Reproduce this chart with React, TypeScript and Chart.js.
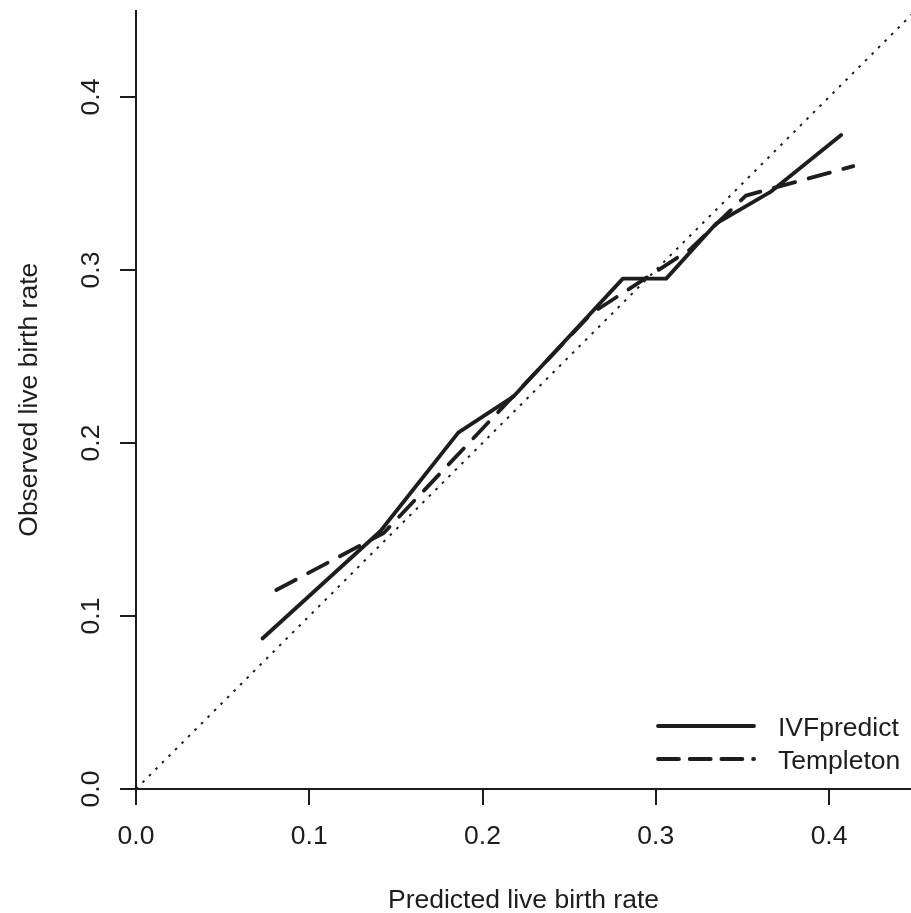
import React, { useEffect, useRef } from 'react';
import { Chart, registerables } from 'chart.js';

Chart.register(...registerables);

// ---- data ----
const ivfX = [0.073, 0.141, 0.186, 0.218, 0.281, 0.306, 0.335, 0.366, 0.407];
const ivfY = [0.087, 0.149, 0.206, 0.227, 0.295, 0.295, 0.327, 0.345, 0.378];
const tplX = [0.081, 0.143, 0.263, 0.320, 0.352, 0.414];
const tplY = [0.115, 0.148, 0.275, 0.312, 0.343, 0.360];
const refX = [0, 0.45];
const refY = [0, 0.45];
const xTicks = [0, 0.1, 0.2, 0.3, 0.4];
const yTicks = [0, 0.1, 0.2, 0.3, 0.4];
const seriesNames = ['IVFpredict', 'Templeton'];
const xTitle = 'Predicted live birth rate';
const yTitle = 'Observed live birth rate';

const FONT = '"Liberation Sans", Arial, Helvetica, sans-serif';
const FS = 26.5;
const INK = '#1d1d1d';

const pts = (xs: number[], ys: number[]) => xs.map((x, i) => ({ x, y: ys[i] }));

export default function App() {
  const ref = useRef<HTMLCanvasElement | null>(null);

  useEffect(() => {
    const canvas = ref.current;
    if (!canvas) return;

    const textPlugin = {
      id: 'rStyleText',
      afterDraw(chart: any) {
        const { ctx, scales } = chart;
        const x = scales.x;
        const y = scales.y;
        ctx.save();
        ctx.fillStyle = INK;
        ctx.font = `${FS}px ${FONT}`;
        // y tick labels, rotated (R style)
        yTicks.forEach((v) => {
          const py = y.getPixelForValue(v);
          ctx.save();
          ctx.translate(99, py);
          ctx.rotate(-Math.PI / 2);
          ctx.textAlign = 'center';
          ctx.textBaseline = 'alphabetic';
          ctx.fillText(v.toFixed(1), 0, 0);
          ctx.restore();
        });
        // y title
        ctx.save();
        ctx.translate(37, (y.top + y.bottom) / 2);
        ctx.rotate(-Math.PI / 2);
        ctx.textAlign = 'center';
        ctx.textBaseline = 'alphabetic';
        ctx.fillText(yTitle, 0, 0);
        ctx.restore();
        // x title
        ctx.textAlign = 'center';
        ctx.textBaseline = 'alphabetic';
        ctx.fillText(xTitle, (x.left + x.right) / 2, 908);
        // legend
        const ds = chart.data.datasets;
        const rows = [726, 759];
        const legendDash = [[], [21, 10.7]];
        seriesNames.forEach((name, i) => {
          const d = ds[i];
          const ly = rows[i];
          ctx.save();
          ctx.strokeStyle = d.borderColor;
          ctx.lineWidth = d.borderWidth;
          ctx.lineCap = d.borderCapStyle || 'butt';
          ctx.setLineDash(legendDash[i]);
          ctx.beginPath();
          ctx.moveTo(658, ly);
          ctx.lineTo(754, ly);
          ctx.stroke();
          ctx.restore();
          ctx.textAlign = 'left';
          ctx.textBaseline = 'alphabetic';
          ctx.fillText(name, 778, ly + 10);
        });
        ctx.restore();
      },
    };

    const axisCommon = {
      type: 'linear' as const,
      grid: {
        drawOnChartArea: false,
        drawTicks: true,
        tickLength: 16,
        color: INK,
        tickColor: INK,
        lineWidth: 2,
      },
      border: { display: true, color: INK, width: 2 },
    };

    const chart = new Chart(canvas, {
      type: 'scatter',
      data: {
        datasets: [
          {
            label: seriesNames[0],
            data: pts(ivfX, ivfY),
            showLine: true,
            borderColor: INK,
            backgroundColor: INK,
            borderWidth: 3.8,
            borderCapStyle: 'round',
            borderJoinStyle: 'round',
            pointRadius: 0,
            tension: 0,
          },
          {
            label: seriesNames[1],
            data: pts(tplX, tplY),
            showLine: true,
            borderColor: INK,
            backgroundColor: INK,
            borderWidth: 3.8,
            borderCapStyle: 'round',
            borderJoinStyle: 'round',
            borderDash: [22, 14],
            pointRadius: 0,
            tension: 0,
          },
          {
            label: 'reference',
            data: pts(refX, refY),
            showLine: true,
            borderColor: INK,
            backgroundColor: INK,
            borderWidth: 2,
            borderCapStyle: 'butt',
            borderDash: [2.6, 6.6],
            pointRadius: 0,
            tension: 0,
          },
        ],
      },
      options: {
        animation: false,
        responsive: false,
        maintainAspectRatio: false,
        devicePixelRatio: 1,
        layout: { padding: { top: 10.5, left: 0, right: 0, bottom: 0 } },
        plugins: {
          legend: { display: false },
          tooltip: { enabled: false },
        },
        scales: {
          x: {
            ...axisCommon,
            min: 0,
            max: 0.4473,
            afterBuildTicks: (s: any) => {
              s.ticks = xTicks.map((v) => ({ value: v }));
            },
            afterFit: (s: any) => {
              s.height = 124;
            },
            ticks: {
              display: true,
              autoSkip: false,
              maxRotation: 0,
              minRotation: 0,
              padding: 16,
              color: INK,
              font: { family: FONT, size: FS },
              callback: (v: any) => Number(v).toFixed(1),
            },
          },
          y: {
            ...axisCommon,
            min: 0,
            max: 0.45,
            afterBuildTicks: (s: any) => {
              s.ticks = yTicks.map((v) => ({ value: v }));
            },
            afterFit: (s: any) => {
              s.width = 136;
            },
            ticks: { display: false },
          },
        },
      },
      plugins: [textPlugin],
    } as any);

    return () => {
      chart.destroy();
    };
  }, []);

  return (
    <div style={{ position: 'absolute', left: 0, top: 0, width: 911, height: 913, background: '#fff' }}>
      <canvas ref={ref} width={911} height={913} style={{ width: 911, height: 913, display: 'block' }} />
    </div>
  );
}
